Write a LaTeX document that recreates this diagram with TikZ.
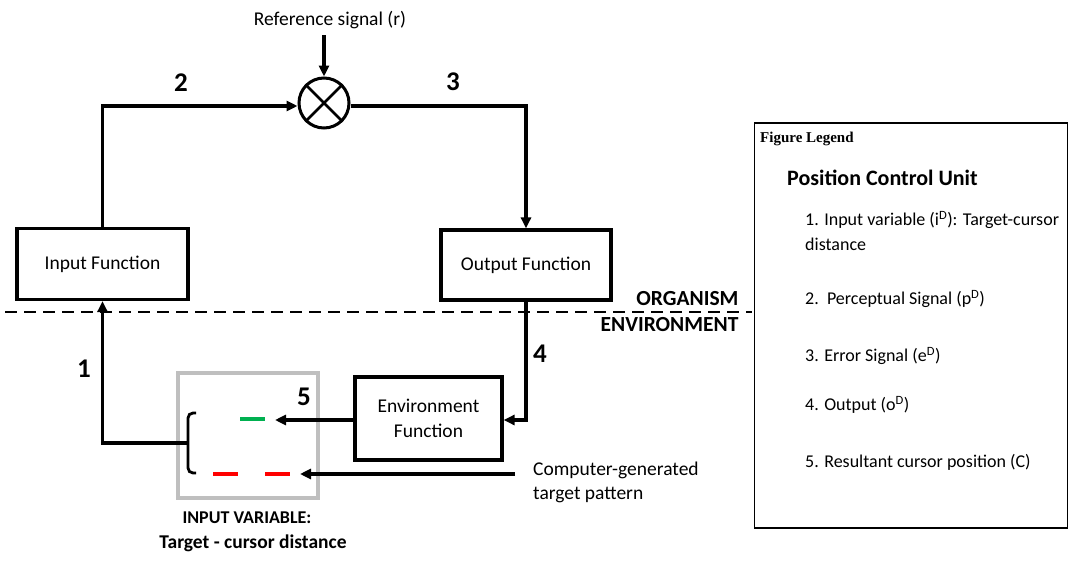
\documentclass[tikz,border=0pt]{standalone}
\usepackage{fontspec}
\setmainfont{Carlito}
\newfontfamily\legendfont{Liberation Serif}
\usetikzlibrary{arrows.meta,calc}
\definecolor{cursorgreen}{RGB}{0,176,80}
\definecolor{targetred}{RGB}{255,0,0}
\begin{document}
\begin{tikzpicture}[x=1pt,y=-1pt,
  wire/.style={line width=3.2pt,-{Triangle[length=11pt,width=10pt]}},
  fbox/.style={draw,line width=3.2pt,inner sep=0pt,font=\fontsize{19.5}{22}\selectfont},
  num/.style={font=\fontsize{27}{29}\selectfont\bfseries},
  lbl/.style={font=\fontsize{19.5}{22}\selectfont},
  item/.style={font=\fontsize{18}{21}\selectfont,anchor=west,inner sep=0pt}]
\useasboundingbox (0,0) rectangle (1072,562);

% organism / environment boundary
\draw[line width=1.5pt,dash pattern=on 12pt off 7pt] (5,312) -- (752,312);
\node[font=\fontsize{21.5}{24}\selectfont\bfseries,anchor=east] at (742,299) {ORGANISM};
\node[font=\fontsize{21.5}{24}\selectfont\bfseries,anchor=east] at (742,325) {ENVIRONMENT};

% comparator
\node[draw,circle,line width=3pt,minimum size=50pt,inner sep=0pt] (cmp) at (324,103) {};
\draw[line width=2.6pt] (cmp.45) -- (cmp.225) (cmp.135) -- (cmp.315);
\node[lbl] (ref) at (330,20) {Reference signal (r)};
\draw[wire] (cmp.north |- 0,35) -- (cmp.north);

% functions
\node[fbox,minimum width=171pt,minimum height=71pt] (inp) at (102.5,264) {Input Function};
\node[fbox,minimum width=170pt,minimum height=70pt] (out) at (526,265) {Output Function};
\node[fbox,minimum width=147pt,minimum height=83pt,align=center] (env) at (428.5,418.5) {Environment\\[3pt]Function};

% input variable display
\node[draw=black!25,line width=3.5pt,minimum width=140pt,minimum height=125pt,inner sep=0pt] (ivar) at (248,435.5) {};
\draw[line width=2.8pt,rounded corners=5pt] (196,413) -- (188,413) -- (188,473) -- (196,473);
\coordinate (brk) at (188,443);
\draw[line width=3.2pt,cursorgreen] (240,419) -- (265,419);
\coordinate (cur) at (275,420);
\draw[line width=3.2pt,targetred] (213,474) -- (238,474) (265,474) -- (290,474);
\coordinate (tgt) at (300,474);
\node[font=\fontsize{18}{20}\selectfont\bfseries] at (247,518) {INPUT VARIABLE:};
\node[font=\fontsize{19.5}{22}\selectfont\bfseries] at (253,543) {Target - cursor distance};

% computer-generated target
\node[lbl,align=left,anchor=west,inner sep=0pt] (cgt) at (533,482) {Computer-generated\\[2pt]target pattern};
\coordinate (cgtin) at (515,474);

% loop connections
\draw[wire] (inp.north) |- (cmp.west |- 0,106);
\draw[wire] (cmp.east |- 0,106) -| (out.north);
\draw[wire] (out.south) |- (env.east |- 0,420);
\draw[wire] (env.west |- 0,420) -- (cur);
\draw[wire] (cgtin) -- (tgt);
\draw[wire] (brk) -| (inp.south);

% loop labels
\node[num] at (181,83) {2};
\node[num] at (453,82) {3};
\node[num] at (540,354) {4};
\node[num] at (304,397) {5};
\node[num] at (84,369) {1};

% legend
\node[draw,line width=1.8pt,minimum width=313pt,minimum height=405pt,inner sep=0pt] (leg) at (911,325.5) {};
\node[font=\legendfont\fontsize{15}{17}\selectfont\bfseries,anchor=west,inner sep=0pt] at (760,139) {Figure Legend};
\node[font=\fontsize{22}{25}\selectfont\bfseries,anchor=west,inner sep=0pt] at (787,178) {Position Control Unit};
\node[item] at (805,220) {1. Input variable (i\textsuperscript{D}): Target-cursor};
\node[item] at (805,244) {distance};
\node[item] at (805,299) {2.\ \ Perceptual Signal (p\textsuperscript{D})};
\node[item] at (805,356) {3. Error Signal (e\textsuperscript{D})};
\node[item] at (805,405) {4. Output (o\textsuperscript{D})};
\node[item] at (805,462) {5. Resultant cursor position (C)};
\end{tikzpicture}
\end{document}
